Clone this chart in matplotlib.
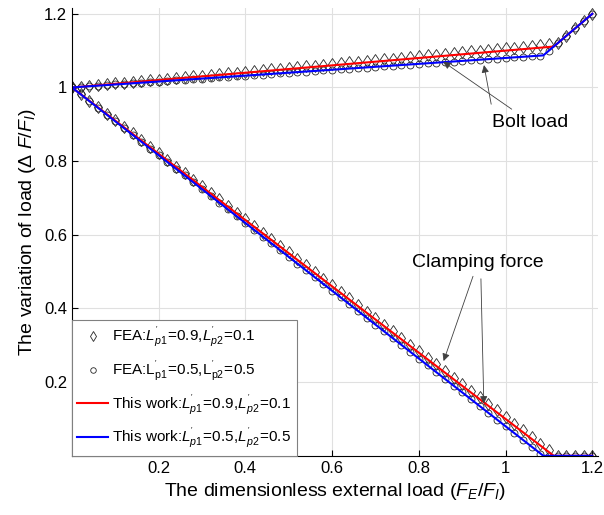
import numpy as np
import matplotlib
matplotlib.use('Agg')
import matplotlib.pyplot as plt

plt.rcParams['font.family'] = ['Liberation Sans', 'DejaVu Sans']
plt.rcParams['mathtext.fontset'] = 'custom'
plt.rcParams['mathtext.rm'] = 'Liberation Sans'
plt.rcParams['mathtext.it'] = 'Liberation Sans:italic'

# carga adimensional externa FE/FI
x = [0.00, 0.02, 0.04, 0.06, 0.08, 0.10, 0.12, 0.14, 0.16, 0.18,
     0.20, 0.22, 0.24, 0.26, 0.28, 0.30, 0.32, 0.34, 0.36, 0.38,
     0.40, 0.42, 0.44, 0.46, 0.48, 0.50, 0.52, 0.54, 0.56, 0.58,
     0.60, 0.62, 0.64, 0.66, 0.68, 0.70, 0.72, 0.74, 0.76, 0.78,
     0.80, 0.82, 0.84, 0.86, 0.88, 0.90, 0.92, 0.94, 0.96, 0.98,
     1.00, 1.02, 1.04, 1.06, 1.08, 1.10, 1.12, 1.14, 1.16, 1.18, 1.20]

# FEA Lp1=0.9, Lp2=0.1 (rombos)
fea1_bolt = [1.000, 1.002, 1.004, 1.006, 1.008, 1.011, 1.013, 1.015, 1.017, 1.019,
             1.021, 1.023, 1.025, 1.028, 1.030, 1.032, 1.034, 1.036, 1.038, 1.040,
             1.042, 1.045, 1.047, 1.049, 1.051, 1.053, 1.055, 1.057, 1.059, 1.061,
             1.064, 1.066, 1.068, 1.070, 1.072, 1.074, 1.076, 1.078, 1.081, 1.083,
             1.085, 1.087, 1.089, 1.091, 1.093, 1.095, 1.098, 1.100, 1.102, 1.104,
             1.106, 1.108, 1.110, 1.112, 1.114, 1.117, 1.120, 1.140, 1.160, 1.180, 1.200]
fea1_clamp = [1.000, 0.982, 0.964, 0.946, 0.928, 0.911, 0.893, 0.875, 0.857, 0.839,
              0.821, 0.803, 0.785, 0.767, 0.749, 0.732, 0.714, 0.696, 0.678, 0.660,
              0.642, 0.624, 0.606, 0.588, 0.570, 0.553, 0.535, 0.517, 0.499, 0.481,
              0.463, 0.445, 0.427, 0.409, 0.391, 0.374, 0.356, 0.338, 0.320, 0.302,
              0.284, 0.266, 0.248, 0.230, 0.212, 0.195, 0.177, 0.159, 0.141, 0.123,
              0.105, 0.087, 0.069, 0.051, 0.033, 0.016, 0.000, 0.000, 0.000, 0.000, 0.000]

# FEA Lp1=0.5, Lp2=0.5 (circulos)
fea2_bolt = [1.000, 1.002, 1.003, 1.005, 1.006, 1.008, 1.010, 1.011, 1.013, 1.014,
             1.016, 1.018, 1.019, 1.021, 1.022, 1.024, 1.026, 1.027, 1.029, 1.030,
             1.032, 1.034, 1.035, 1.037, 1.038, 1.040, 1.042, 1.043, 1.045, 1.046,
             1.048, 1.050, 1.051, 1.053, 1.054, 1.056, 1.058, 1.059, 1.061, 1.062,
             1.064, 1.066, 1.067, 1.069, 1.070, 1.072, 1.074, 1.075, 1.077, 1.078,
             1.080, 1.082, 1.083, 1.085, 1.086, 1.100, 1.120, 1.140, 1.160, 1.180, 1.200]
fea2_clamp = [1.000, 0.982, 0.963, 0.945, 0.926, 0.908, 0.890, 0.871, 0.853, 0.834,
              0.816, 0.798, 0.779, 0.761, 0.742, 0.724, 0.706, 0.687, 0.669, 0.650,
              0.632, 0.614, 0.595, 0.577, 0.558, 0.540, 0.522, 0.503, 0.485, 0.466,
              0.448, 0.430, 0.411, 0.393, 0.374, 0.356, 0.338, 0.319, 0.301, 0.282,
              0.264, 0.246, 0.227, 0.209, 0.190, 0.172, 0.154, 0.135, 0.117, 0.098,
              0.080, 0.062, 0.043, 0.025, 0.006, 0.000, 0.000, 0.000, 0.000, 0.000, 0.000]

# modelo analitico (puntos de quiebre)
tw1_x = [0.0, 1.111, 1.2]
tw1_bolt = [1.0, 1.111, 1.2]
tw1_clamp = [1.0, 0.0, 0.0]
tw2_x = [0.0, 1.087, 1.2]
tw2_bolt = [1.0, 1.087, 1.2]
tw2_clamp = [1.0, 0.0, 0.0]

ticks = [0.2, 0.4, 0.6, 0.8, 1.0, 1.2]
tick_labels = ['0.2', '0.4', '0.6', '0.8', '1', '1.2']

fig = plt.figure(figsize=(6.04, 5.15), dpi=100)
ax = fig.add_axes([0.119, 0.115, 0.871, 0.869])

mk1 = dict(ls='none', marker='d', ms=6, mfc='none', mec='0.15', mew=0.6)
mk2 = dict(ls='none', marker='o', ms=5, mfc='none', mec='0.15', mew=0.6)
lab1 = r"FEA:$\mathit{L^{'}_{p1}\!=\!0.9,\!L^{'}_{p2}\!=\!0.1}$"
lab2 = r"FEA:$\mathrm{L^{'}_{p1}\!=\!0.5,\!L^{'}_{p2}\!=\!0.5}$"
lab3 = r"This work:$\mathit{L^{'}_{p1}\!=\!0.9,\!L^{'}_{p2}\!=\!0.1}$"
lab4 = r"This work:$\mathit{L^{'}_{p1}\!=\!0.5,\!L^{'}_{p2}\!=\!0.5}$"

ax.plot(x, fea1_bolt, label=lab1, **mk1)
ax.plot(x, fea1_clamp, **mk1)
ax.plot(x, fea2_bolt, label=lab2, **mk2)
ax.plot(x, fea2_clamp, **mk2)
ax.plot(tw1_x, tw1_bolt, color='red', lw=1.5, label=lab3)
ax.plot(tw1_x, tw1_clamp, color='red', lw=1.5)
ax.plot(tw2_x, tw2_bolt, color='blue', lw=1.5, label=lab4)
ax.plot(tw2_x, tw2_clamp, color='blue', lw=1.5)

ax.set_xlim(0, 1.213)
ax.set_ylim(0, 1.215)
ax.set_xticks(ticks)
ax.set_xticklabels(tick_labels)
ax.set_yticks(ticks)
ax.set_yticklabels(tick_labels)
ax.tick_params(direction='in', labelsize=12, length=4, width=0.8)
ax.spines['top'].set_visible(False)
ax.spines['right'].set_visible(False)
ax.grid(True, color='0.88', lw=0.8)
ax.set_axisbelow(True)

ax.set_xlabel(r'The dimensionless external load $\mathit{(F_E/F_I)}$', fontsize=14)
ax.set_ylabel(r'The variation of load $\mathit{(\Delta\ F/F_I)}$', fontsize=14)

arr = dict(arrowstyle='-|>', color='0.25', lw=0.6, mutation_scale=11)
ax.annotate('Bolt load', xy=(0.851, 1.074), xytext=(1.057, 0.906), fontsize=14,
            ha='center', va='center', arrowprops=arr)
ax.annotate('', xy=(0.949, 1.068), xytext=(0.968, 0.947), arrowprops=arr)
ax.annotate('Clamping force', xy=(0.855, 0.25), xytext=(0.936, 0.525), fontsize=14,
            ha='center', va='center', arrowprops=arr)
ax.annotate('', xy=(0.950, 0.134), xytext=(0.943, 0.488), arrowprops=arr)

leg = ax.legend(loc='lower left', fontsize=11, borderaxespad=0, fancybox=False,
                edgecolor='0.5', framealpha=1, handlelength=2.0, handletextpad=0.3,
                labelspacing=0.6, borderpad=0.35, markerscale=0.8)
leg.get_frame().set_linewidth(0.8)

fig.savefig('out.png', dpi=100)
